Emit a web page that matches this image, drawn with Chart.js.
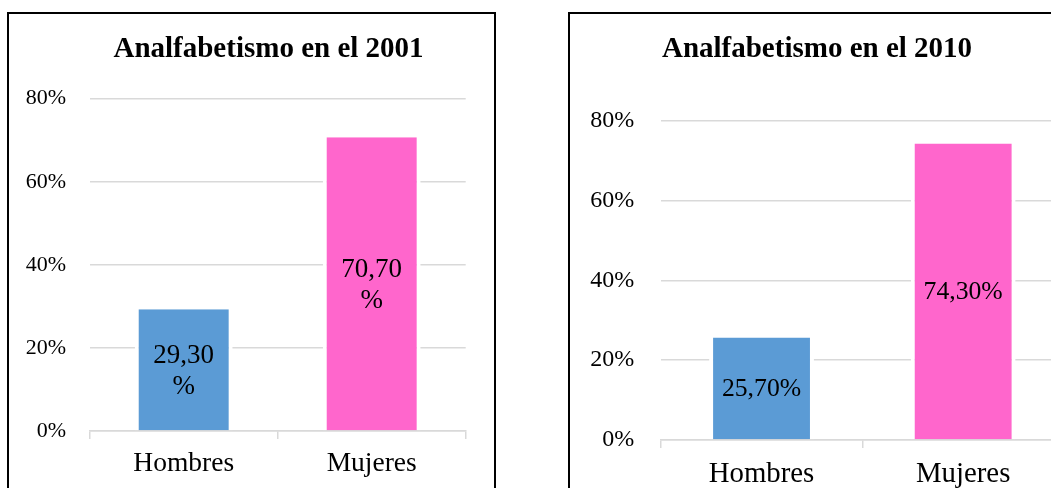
<!DOCTYPE html>
<html>
<head>
<meta charset="utf-8">
<script src="https://cdn.jsdelivr.net/npm/chart.js@4.4.1/dist/chart.umd.min.js"></script>
<style>
html, body { margin: 0; padding: 0; background: #fff; width: 1051px; height: 488px; overflow: hidden; }
.box { position: absolute; top: 12px; height: 600px; border: 2px solid #000; }
#box2001 { left: 7px; width: 485px; }
#box2010 { left: 568px; width: 600px; }
.box canvas { position: absolute; left: 0; top: 0; }
</style>
</head>
<body>
<div class="box" id="box2001"><canvas id="chart2001" width="519" height="474"></canvas></div>
<div class="box" id="box2010"><canvas id="chart2010" width="520" height="474"></canvas></div>
<script>
const categories = ['Hombres', 'Mujeres'];
const values2001 = [29.3, 70.7];
const values2010 = [25.7, 74.3];
const yTickValues = [0, 20, 40, 60, 80];
const barColors = ['#5B9BD5', '#FF66CC'];

const serif = '"Liberation Serif", "Times New Roman", serif';
const gridGrey = '#d9d9d9';

function formatPct(v) {
    return v.toFixed(2).replace('.', ',') + '%';
}

// value labels drawn in the middle of each bar
const barLabels = {
    id: 'barLabels',
    afterDatasetsDraw(chart, args, opts) {
        const ctx = chart.ctx;
        const meta = chart.getDatasetMeta(0);
        ctx.save();
        ctx.font = `${opts.size}px ${serif}`;
        ctx.fillStyle = '#000';
        ctx.textAlign = 'center';
        ctx.textBaseline = 'middle';
        meta.data.forEach((bar, i) => {
            const text = formatPct(chart.data.datasets[0].data[i]);
            const lines = opts.wrap ? [text.slice(0, -1), '%'] : [text];
            const mid = (bar.y + bar.base) / 2 + (opts.shift || 0);
            lines.forEach((line, j) => {
                ctx.fillText(line, bar.x, mid + (j - (lines.length - 1) / 2) * opts.lineHeight);
            });
        });
        ctx.restore();
    }
};

function createChart(id, title, values, s) {
    const ctx = document.getElementById(id).getContext('2d');
    const scales = {
        x: {
            offset: true,
            grid: { display: true, offset: true, drawOnChartArea: false, drawTicks: true, tickLength: 8, color: gridGrey, lineWidth: 1.5 },
            border: { display: true, color: gridGrey, width: 1.5 },
            ticks: { color: '#000', padding: s.xPad, font: { family: serif, size: s.xFont } },
            afterFit: scale => { scale.height = s.xHeight; }
        },
        y: {
            min: 0,
            max: 80,
            grid: { color: gridGrey, lineWidth: 1.5, drawTicks: false },
            border: { display: false },
            ticks: { color: '#000', padding: s.yPad, font: { family: serif, size: s.yFont }, callback: v => v + '%' },
            afterBuildTicks: scale => { scale.ticks = yTickValues.map(v => ({ value: v })); },
            afterFit: scale => { scale.width = s.yWidth; }
        }
    };
    if (s.spacer) {
        // empty right-hand box so the title centres where the original has it
        scales.spacer = {
            type: 'linear',
            position: 'right',
            grid: { display: false },
            border: { display: false },
            ticks: { display: false },
            afterFit: scale => { scale.width = s.spacer; }
        };
    }
    return new Chart(ctx, {
        type: 'bar',
        data: {
            labels: categories,
            datasets: [{
                data: values,
                backgroundColor: barColors,
                borderColor: '#ffffff',
                borderWidth: { left: 4, right: 4, top: 0, bottom: 0 },
                borderSkipped: false,
                categoryPercentage: 1,
                barPercentage: s.barPct
            }]
        },
        options: {
            responsive: false,
            animation: false,
            devicePixelRatio: 1,
            layout: { padding: { left: 0, top: 0, bottom: 0, right: s.padRight } },
            plugins: {
                legend: { display: false },
                tooltip: { enabled: false },
                title: {
                    display: true,
                    text: title,
                    color: '#000',
                    font: { family: serif, size: 29, weight: 'bold', lineHeight: 1.2 },
                    padding: { top: s.titleTop, bottom: s.titleBottom }
                },
                barLabels: { size: s.labelFont, wrap: s.wrap, lineHeight: 31, shift: s.labelShift }
            },
            scales: scales
        },
        plugins: [barLabels]
    });
}

document.addEventListener('DOMContentLoaded', () => {
    createChart('chart2001', 'Analfabetismo en el 2001', values2001, {
        xPad: 8.5, xFont: 27.5, xHeight: 57,
        yPad: 23.7, yFont: 22, yWidth: 80.7,
        titleTop: 18.6, titleBottom: 31.3,
        padRight: 0, spacer: 62.3,
        barPct: 0.521, labelFont: 27, wrap: true, labelShift: 1.5
    });
    createChart('chart2010', 'Analfabetismo en el 2010', values2010, {
        xPad: 8.7, xFont: 28.8, xHeight: 48,
        yPad: 26.4, yFont: 24, yWidth: 90.7,
        titleTop: 18.3, titleBottom: 53.6,
        padRight: 26, spacer: 0,
        barPct: 0.52, labelFont: 25.7, wrap: false, labelShift: 0.5
    });
});
</script>
</body>
</html>
